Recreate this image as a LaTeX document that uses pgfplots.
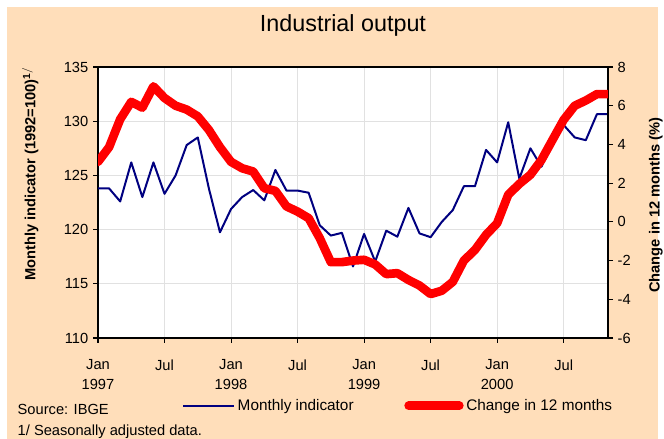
\documentclass[border=0pt]{standalone}
\usepackage{pgfplots}
\pgfplotsset{compat=1.18}
\usepackage{pgfplotstable}
\usepackage{fontspec}
\setmainfont{Liberation Sans}
\definecolor{peach}{RGB}{255,222,186}
\definecolor{navyb}{RGB}{0,0,128}
\definecolor{gridc}{RGB}{225,225,225}

\pgfplotstableread{
m ind chg
0 123.8 3.1
1 123.8 3.86
2 122.6 5.3
3 126.2 6.2
4 123.0 5.9
5 126.2 7.0
6 123.3 6.4
7 125.0 6.0
8 127.8 5.8
9 128.5 5.45
10 123.8 4.75
11 119.75 3.86
12 121.9 3.1
13 123.0 2.77
14 123.65 2.6
15 122.7 1.74
16 125.5 1.6
17 123.6 0.8
18 123.6 0.53
19 123.4 0.19
20 120.4 -0.84
21 119.45 -2.08
22 119.7 -2.08
23 116.6 -2.0
24 119.6 -1.96
25 117.05 -2.2
26 119.9 -2.7
27 119.35 -2.65
28 122.0 -3.0
29 119.65 -3.29
30 119.3 -3.73
31 120.7 -3.56
32 121.8 -3.1
33 124.0 -2.0
34 124.0 -1.45
35 127.35 -0.67
36 126.2 -0.07
37 129.9 1.4
38 124.7 1.96
39 127.5 2.43
40 125.8 3.2
41 128.1 4.24
42 129.65 5.27
43 128.5 6.0
44 128.25 6.27
45 130.65 6.6
46 130.65 6.6
}\datatable

\begin{document}
\begin{tikzpicture}[x=0.75pt,y=0.75pt]
\fill[white] (0,0) rectangle (664,439);
\fill[peach] (7,0) rectangle (658,432);
\useasboundingbox (0,0) rectangle (664,439);
\node[font=\fontsize{17.5}{20}\selectfont] at (343,414) {Industrial output};
\node[anchor=base west,font=\fontsize{11}{13}\selectfont] at (13,24) {Source: IBGE};
\node[anchor=base west,font=\fontsize{11}{13}\selectfont] at (13,3) {1/ Seasonally adjusted data.};

\begin{axis}[
  at={(73.5pt,75.75pt)}, anchor=south west,
  scale only axis, width=382.5pt, height=203.25pt,
  xmin=0, xmax=46, ymin=110, ymax=135,
  xtick={0,6,...,42},
  xticklabels={{Jan\\1997},Jul,{Jan\\1998},Jul,{Jan\\1999},Jul,{Jan\\2000},Jul},
  x tick label style={align=center, font=\fontsize{11}{15}\selectfont, yshift=-9pt},
  ytick={110,115,...,135},
  y tick label style={font=\fontsize{11}{13}\selectfont},
  /pgf/number format/assume math mode=true,
  xtick pos=bottom, ytick pos=left,
  tick align=outside, major tick length=3.75pt,
  tick style={black, line width=0.8pt},
  axis line style={line width=1.5pt},
  grid=major, major grid style={gridc, line width=0.6pt},
  axis background/.style={fill=white},
  ylabel={Monthly indicator (1992=100)$^{\mathbf{1/}}$},
  ylabel style={at={(axis description cs:-0.133,0.605)}, anchor=center, font=\bfseries\fontsize{11}{13}\selectfont},
]
\addplot[navyb, line width=1.5pt, line join=round] table[x=m, y=ind] {\datatable};
\end{axis}

\begin{axis}[
  at={(73.5pt,75.75pt)}, anchor=south west,
  scale only axis, width=382.5pt, height=203.25pt,
  xmin=0, xmax=46, ymin=-6, ymax=8,
  axis x line=none, axis y line*=right,
  ytick={-6,-4,...,8},
  y tick label style={font=\fontsize{11}{13}\selectfont},
  /pgf/number format/assume math mode=true,
  tick align=outside, major tick length=3.75pt,
  tick style={black, line width=0.8pt},
  axis line style={line width=1.5pt},
  ylabel={Change in 12 months (\%)},
  ylabel style={at={(axis description cs:1.094,0.49)}, anchor=center, font=\bfseries\fontsize{11}{13}\selectfont},
  legend style={at={(axis description cs:0.165,-0.215)}, anchor=north west, draw=none, fill=none,
     font=\fontsize{11.5}{13}\selectfont, inner sep=0pt,
     /tikz/every even column/.append style={column sep=36pt}},
  legend columns=2,
  legend image code/.code={\draw[#1] (0pt,0pt) -- (38pt,0pt);},
]
\addlegendimage{navyb, line width=1.5pt}
\addlegendentry{Monthly indicator}
\addplot[red, line width=6.5pt, line join=round, line cap=round] table[x=m, y=chg] {\datatable};
\addlegendentry{Change in 12 months}
\end{axis}
\end{tikzpicture}
\end{document}
